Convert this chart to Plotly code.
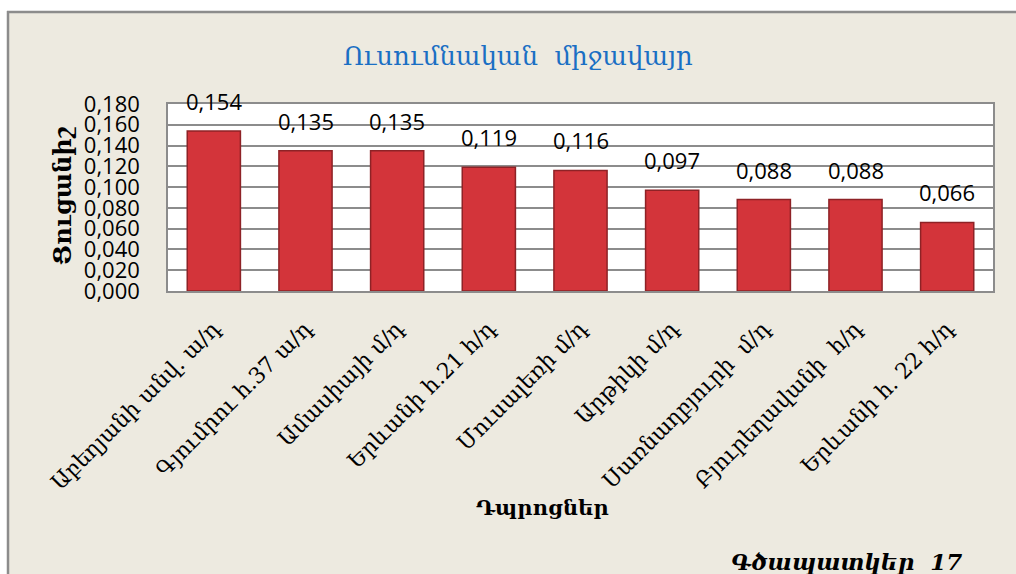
import plotly.graph_objects as go

categories = [
    "Աբեղյանի անվ. ա/դ",
    "Գյումրու հ.37 ա/դ",
    "Ամասիայի մ/դ",
    "Երևանի հ.21 հ/դ",
    "Մուսալեռի մ/դ",
    "Արթիկի մ/դ",
    "Սառնաղբյուրի  մ/դ",
    "Բյուրեղավանի  հ/դ",
    "Երևանի հ. 22 հ/դ",
]
values = [0.154, 0.135, 0.135, 0.119, 0.116, 0.097, 0.088, 0.088, 0.066]
value_labels = ["0,154", "0,135", "0,135", "0,119", "0,116", "0,097", "0,088", "0,088", "0,066"]

title_text = "Ուսումնական  միջավայր"
y_title = "Ցուցանիշ"
x_title = "Դպրոցներ"
caption = "Գծապատկեր  17"

W, H = 1016, 574
L, R, T, B = 168, 993, 104, 291

def px(x):
    return (x - L) / (R - L)

def py(y):
    return (B - y) / (B - T)

SERIF = "DejaVu Serif"
SANS = "Open Sans"

fig = go.Figure()
fig.add_trace(go.Bar(
    x=categories, y=values, width=0.58,
    marker=dict(color="#D3343A", line=dict(color="#8E2226", width=1.5)),
    hoverinfo="skip",
))

annotations = []
for c, v, t in zip(categories, values, value_labels):
    annotations.append(dict(x=c, y=v, text=t, showarrow=False, yanchor="bottom",
                            xanchor="center", yshift=13,
                            font=dict(family=SANS, size=22, color="#000")))

annotations += [
    dict(x=px(518), y=py(56), xref="paper", yref="paper", text=title_text, showarrow=False,
         xanchor="center", yanchor="middle",
         font=dict(family=SERIF, size=26, color="#1A6FC4")),
    dict(x=px(62), y=py(196), xref="paper", yref="paper", text=y_title, showarrow=False,
         xanchor="center", yanchor="middle",
         textangle=-90, font=dict(family=SERIF, size=24, color="#000", weight="bold")),
    dict(x=px(542), y=py(507), xref="paper", yref="paper", text=x_title, showarrow=False,
         xanchor="center", yanchor="middle",
         font=dict(family=SERIF, size=21, color="#000", weight="bold")),
    dict(x=px(846), y=py(561), xref="paper", yref="paper", text=caption, showarrow=False,
         xanchor="center", yanchor="middle",
         font=dict(family=SERIF, size=23, color="#000", weight="bold", style="italic")),
]

shapes = [
    dict(type="rect", xref="paper", yref="paper", x0=px(-10), x1=px(1030), y0=py(-10), y1=py(12),
         fillcolor="white", line=dict(width=0), layer="above"),
    dict(type="rect", xref="paper", yref="paper", x0=px(-10), x1=px(8), y0=py(-10), y1=py(600),
         fillcolor="white", line=dict(width=0), layer="above"),
    dict(type="line", xref="paper", yref="paper", x0=px(7), x1=px(1030), y0=py(12), y1=py(12),
         line=dict(color="#8C8C8C", width=2.5)),
    dict(type="line", xref="paper", yref="paper", x0=px(8), x1=px(8), y0=py(11), y1=py(600),
         line=dict(color="#8C8C8C", width=2.5)),
]

fig.update_layout(
    width=W, height=H,
    margin=dict(l=L, r=W - R, t=T, b=H - B, autoexpand=False),
    paper_bgcolor="#EDEAE0",
    plot_bgcolor="white",
    separators=",.",
    showlegend=False,
    annotations=annotations,
    shapes=shapes,
    xaxis=dict(
        tickangle=-45, tickfont=dict(family=SERIF, size=22, color="#000"),
        showline=True, linecolor="#8C8C8C", linewidth=1.5, mirror=True,
        ticks="", ticklabelstandoff=14,
    ),
    yaxis=dict(
        range=[0, 0.18], dtick=0.02, tickformat=".3f",
        tickfont=dict(family=SANS, size=22, color="#000"),
        showgrid=True, gridcolor="#8C8C8C", gridwidth=1.5,
        showline=True, linecolor="#8C8C8C", linewidth=1.5, mirror=True,
        ticks="", ticklabelstandoff=22, zeroline=False,
    ),
)

fig.write_html("out.html", config={"displayModeBar": False},
               post_script="document.body.style.margin='0';document.body.style.overflow='hidden';")
